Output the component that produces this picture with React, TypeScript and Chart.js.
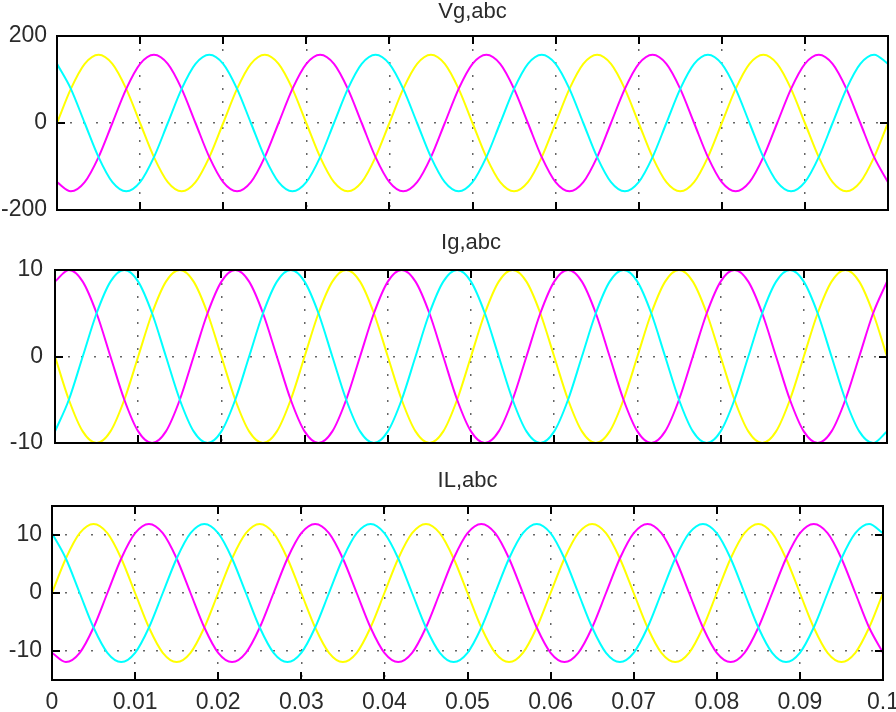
import React, { useEffect, useRef } from 'react';
import { Chart, registerables } from 'chart.js';

Chart.register(...registerables);

// ---------------- data ----------------
const timeS = [
  0, 0.001667, 0.003333, 0.005, 0.006667, 0.008333,
  0.01, 0.011667, 0.013333, 0.015, 0.016667, 0.018333,
  0.02, 0.021667, 0.023333, 0.025, 0.026667, 0.028333,
  0.03, 0.031667, 0.033333, 0.035, 0.036667, 0.038333,
  0.04, 0.041667, 0.043333, 0.045, 0.046667, 0.048333,
  0.05, 0.051667, 0.053333, 0.055, 0.056667, 0.058333,
  0.06, 0.061667, 0.063333, 0.065, 0.066667, 0.068333,
  0.07, 0.071667, 0.073333, 0.075, 0.076667, 0.078333,
  0.08, 0.081667, 0.083333, 0.085, 0.086667, 0.088333,
  0.09, 0.091667, 0.093333, 0.095, 0.096667, 0.098333,
  0.1,
];

const vgA = [
  0, 78.5, 136, 157, 136, 78.5, 0, -78.5, -136, -157, -136, -78.5,
  0, 78.5, 136, 157, 136, 78.5, 0, -78.5, -136, -157, -136, -78.5,
  0, 78.5, 136, 157, 136, 78.5, 0, -78.5, -136, -157, -136, -78.5,
  0, 78.5, 136, 157, 136, 78.5, 0, -78.5, -136, -157, -136, -78.5,
  0, 78.5, 136, 157, 136, 78.5, 0, -78.5, -136, -157, -136, -78.5,
  0,
];
const vgB = [
  -136, -157, -136, -78.5, 0, 78.5, 136, 157, 136, 78.5, 0, -78.5,
  -136, -157, -136, -78.5, 0, 78.5, 136, 157, 136, 78.5, 0, -78.5,
  -136, -157, -136, -78.5, 0, 78.5, 136, 157, 136, 78.5, 0, -78.5,
  -136, -157, -136, -78.5, 0, 78.5, 136, 157, 136, 78.5, 0, -78.5,
  -136, -157, -136, -78.5, 0, 78.5, 136, 157, 136, 78.5, 0, -78.5,
  -136,
];
const vgC = [
  136, 78.5, 0, -78.5, -136, -157, -136, -78.5, 0, 78.5, 136, 157,
  136, 78.5, 0, -78.5, -136, -157, -136, -78.5, 0, 78.5, 136, 157,
  136, 78.5, 0, -78.5, -136, -157, -136, -78.5, 0, 78.5, 136, 157,
  136, 78.5, 0, -78.5, -136, -157, -136, -78.5, 0, 78.5, 136, 157,
  136, 78.5, 0, -78.5, -136, -157, -136, -78.5, 0, 78.5, 136, 157,
  136,
];

const igA = [
  0, -5, -8.66, -10, -8.66, -5, 0, 5, 8.66, 10, 8.66, 5,
  0, -5, -8.66, -10, -8.66, -5, 0, 5, 8.66, 10, 8.66, 5,
  0, -5, -8.66, -10, -8.66, -5, 0, 5, 8.66, 10, 8.66, 5,
  0, -5, -8.66, -10, -8.66, -5, 0, 5, 8.66, 10, 8.66, 5,
  0, -5, -8.66, -10, -8.66, -5, 0, 5, 8.66, 10, 8.66, 5,
  0,
];
const igB = [
  8.66, 10, 8.66, 5, 0, -5, -8.66, -10, -8.66, -5, 0, 5,
  8.66, 10, 8.66, 5, 0, -5, -8.66, -10, -8.66, -5, 0, 5,
  8.66, 10, 8.66, 5, 0, -5, -8.66, -10, -8.66, -5, 0, 5,
  8.66, 10, 8.66, 5, 0, -5, -8.66, -10, -8.66, -5, 0, 5,
  8.66, 10, 8.66, 5, 0, -5, -8.66, -10, -8.66, -5, 0, 5,
  8.66,
];
const igC = [
  -8.66, -5, 0, 5, 8.66, 10, 8.66, 5, 0, -5, -8.66, -10,
  -8.66, -5, 0, 5, 8.66, 10, 8.66, 5, 0, -5, -8.66, -10,
  -8.66, -5, 0, 5, 8.66, 10, 8.66, 5, 0, -5, -8.66, -10,
  -8.66, -5, 0, 5, 8.66, 10, 8.66, 5, 0, -5, -8.66, -10,
  -8.66, -5, 0, 5, 8.66, 10, 8.66, 5, 0, -5, -8.66, -10,
  -8.66,
];

const ilA = [
  0, 5.95, 10.31, 11.9, 10.31, 5.95, 0, -5.95, -10.31, -11.9, -10.31, -5.95,
  0, 5.95, 10.31, 11.9, 10.31, 5.95, 0, -5.95, -10.31, -11.9, -10.31, -5.95,
  0, 5.95, 10.31, 11.9, 10.31, 5.95, 0, -5.95, -10.31, -11.9, -10.31, -5.95,
  0, 5.95, 10.31, 11.9, 10.31, 5.95, 0, -5.95, -10.31, -11.9, -10.31, -5.95,
  0, 5.95, 10.31, 11.9, 10.31, 5.95, 0, -5.95, -10.31, -11.9, -10.31, -5.95,
  0,
];
const ilB = [
  -10.31, -11.9, -10.31, -5.95, 0, 5.95, 10.31, 11.9, 10.31, 5.95, 0, -5.95,
  -10.31, -11.9, -10.31, -5.95, 0, 5.95, 10.31, 11.9, 10.31, 5.95, 0, -5.95,
  -10.31, -11.9, -10.31, -5.95, 0, 5.95, 10.31, 11.9, 10.31, 5.95, 0, -5.95,
  -10.31, -11.9, -10.31, -5.95, 0, 5.95, 10.31, 11.9, 10.31, 5.95, 0, -5.95,
  -10.31, -11.9, -10.31, -5.95, 0, 5.95, 10.31, 11.9, 10.31, 5.95, 0, -5.95,
  -10.31,
];
const ilC = [
  10.31, 5.95, 0, -5.95, -10.31, -11.9, -10.31, -5.95, 0, 5.95, 10.31, 11.9,
  10.31, 5.95, 0, -5.95, -10.31, -11.9, -10.31, -5.95, 0, 5.95, 10.31, 11.9,
  10.31, 5.95, 0, -5.95, -10.31, -11.9, -10.31, -5.95, 0, 5.95, 10.31, 11.9,
  10.31, 5.95, 0, -5.95, -10.31, -11.9, -10.31, -5.95, 0, 5.95, 10.31, 11.9,
  10.31, 5.95, 0, -5.95, -10.31, -11.9, -10.31, -5.95, 0, 5.95, 10.31, 11.9,
  10.31,
];

const xTickValues = [0, 0.01, 0.02, 0.03, 0.04, 0.05, 0.06, 0.07, 0.08, 0.09, 0.1];
const xTickLabels = ['0', '0.01', '0.02', '0.03', '0.04', '0.05', '0.06', '0.07', '0.08', '0.09', '0.1'];
const vgTicks = [-200, 0, 200];
const igTicks = [-10, 0, 10];
const ilTicks = [-10, 0, 10];
const titles = ['Vg,abc', 'Ig,abc', 'IL,abc'];

// ---------------- styles ----------------
const FONT = '"Liberation Sans", Arial, Helvetica, sans-serif';
const TEXT = '#2b2b2b';
const GRID = '#666666';
const COLORS = { a: '#ffff00', b: '#ff00ff', c: '#00ffff' };

const framePlugin = {
  id: 'scopeFrame',
  afterDatasetsDraw(chart: any) {
    const { ctx, chartArea: a, scales } = chart;
    const L = 8;
    ctx.save();
    ctx.strokeStyle = '#000';
    ctx.lineWidth = 2;
    ctx.beginPath();
    const xs = scales.x;
    xs.ticks.forEach((_t: any, i: number) => {
      const px = Math.round(xs.getPixelForTick(i));
      ctx.moveTo(px, a.top);
      ctx.lineTo(px, a.top + L);
      ctx.moveTo(px, a.bottom);
      ctx.lineTo(px, a.bottom - L);
    });
    const ys = scales.y;
    ys.ticks.forEach((_t: any, i: number) => {
      const py = Math.round(ys.getPixelForTick(i));
      ctx.moveTo(a.left, py);
      ctx.lineTo(a.left + L, py);
      ctx.moveTo(a.right, py);
      ctx.lineTo(a.right - L, py);
    });
    ctx.stroke();
    ctx.strokeRect(a.left, a.top, a.right - a.left, a.bottom - a.top);
    ctx.restore();
  },
};

type PanelSpec = {
  title: string;
  ya: number[];
  yb: number[];
  yc: number[];
  yMin: number;
  yMax: number;
  yTicks: number[];
  showX: boolean;
  top: number;
  height: number;
  axisWidth: number;
  padRight: number;
  padBottom: number;
  titleTop: number;
  titleBottom: number;
  yPad: number;
};

function ds(values: number[], color: string, order: number) {
  return {
    data: timeS.map((t, i) => ({ x: t, y: values[i] })),
    borderColor: color,
    backgroundColor: color,
    borderWidth: 2,
    pointRadius: 0,
    fill: false,
    cubicInterpolationMode: 'monotone',
    order,
  };
}

function Panel({ spec }: { spec: PanelSpec }) {
  const ref = useRef<HTMLCanvasElement | null>(null);
  useEffect(() => {
    if (!ref.current) return;
    const tickFont = { family: FONT, size: 23 };
    const chart = new Chart(ref.current, {
      type: 'line',
      data: {
        datasets: [
          ds(spec.ya, COLORS.a, 3),
          ds(spec.yb, COLORS.b, 2),
          ds(spec.yc, COLORS.c, 1),
        ] as any,
      },
      options: {
        responsive: false,
        animation: false,
        devicePixelRatio: 1,
        layout: { padding: { left: 0, right: spec.padRight, top: 0, bottom: spec.padBottom } },
        plugins: {
          legend: { display: false },
          tooltip: { enabled: false },
          title: {
            display: true,
            text: spec.title,
            fullSize: false,
            color: TEXT,
            font: { family: FONT, size: 22, weight: 'normal', lineHeight: 1 },
            padding: { top: spec.titleTop, bottom: spec.titleBottom },
          },
        },
        scales: {
          x: {
            type: 'linear',
            min: 0,
            max: 0.1,
            afterBuildTicks: (s: any) => {
              s.ticks = xTickValues.map((v) => ({ value: v }));
            },
            afterFit: (s: any) => {
              if (spec.showX) s.height = 32;
              s.paddingLeft = 0;
              s.paddingRight = 0;
            },
            grid: { color: GRID, lineWidth: 1.5, drawTicks: false },
            border: { display: false, dash: [2, 11] },
            ticks: {
              display: spec.showX,
              padding: 9,
              color: TEXT,
              font: tickFont,
              maxRotation: 0,
              autoSkip: false,
              callback: (_v: any, i: number) => xTickLabels[i],
            },
          },
          y: {
            type: 'linear',
            min: spec.yMin,
            max: spec.yMax,
            afterBuildTicks: (s: any) => {
              s.ticks = spec.yTicks.map((v) => ({ value: v }));
            },
            afterFit: (s: any) => {
              s.width = spec.axisWidth;
              s.paddingTop = 0;
              s.paddingBottom = 0;
            },
            grid: { color: GRID, lineWidth: 1.5, drawTicks: false },
            border: { display: false, dash: [2, 11] },
            ticks: {
              padding: spec.yPad,
              color: TEXT,
              font: tickFont,
              callback: (v: any) => String(v),
            },
          },
        },
      } as any,
      plugins: [framePlugin],
    });
    return () => chart.destroy();
  }, [spec]);
  return (
    <canvas
      ref={ref}
      width={896}
      height={spec.height}
      style={{ position: 'absolute', left: 0, top: spec.top, width: 896, height: spec.height }}
    />
  );
}

const panels: PanelSpec[] = [
  {
    title: titles[0], ya: vgA, yb: vgB, yc: vgC, yMin: -200, yMax: 200, yTicks: vgTicks,
    showX: false, top: 0, height: 230, axisWidth: 57, padRight: 8, padBottom: 20,
    titleTop: 1, titleBottom: 13, yPad: 10,
  },
  {
    title: titles[1], ya: igA, yb: igB, yc: igC, yMin: -10, yMax: 10, yTicks: igTicks,
    showX: false, top: 230, height: 230, axisWidth: 55, padRight: 9, padBottom: 17,
    titleTop: 2, titleBottom: 16, yPad: 12,
  },
  {
    title: titles[2], ya: ilA, yb: ilB, yc: ilC, yMin: -15, yMax: 15, yTicks: ilTicks,
    showX: true, top: 460, height: 252, axisWidth: 52, padRight: 13, padBottom: 0,
    titleTop: 9.5, titleBottom: 14.5, yPad: 10,
  },
];

export default function App() {
  return (
    <div style={{ position: 'fixed', left: 0, top: 0, width: 896, height: 712, background: '#fff', overflow: 'hidden' }}>
      {panels.map((p) => (
        <Panel key={p.title} spec={p} />
      ))}
    </div>
  );
}
